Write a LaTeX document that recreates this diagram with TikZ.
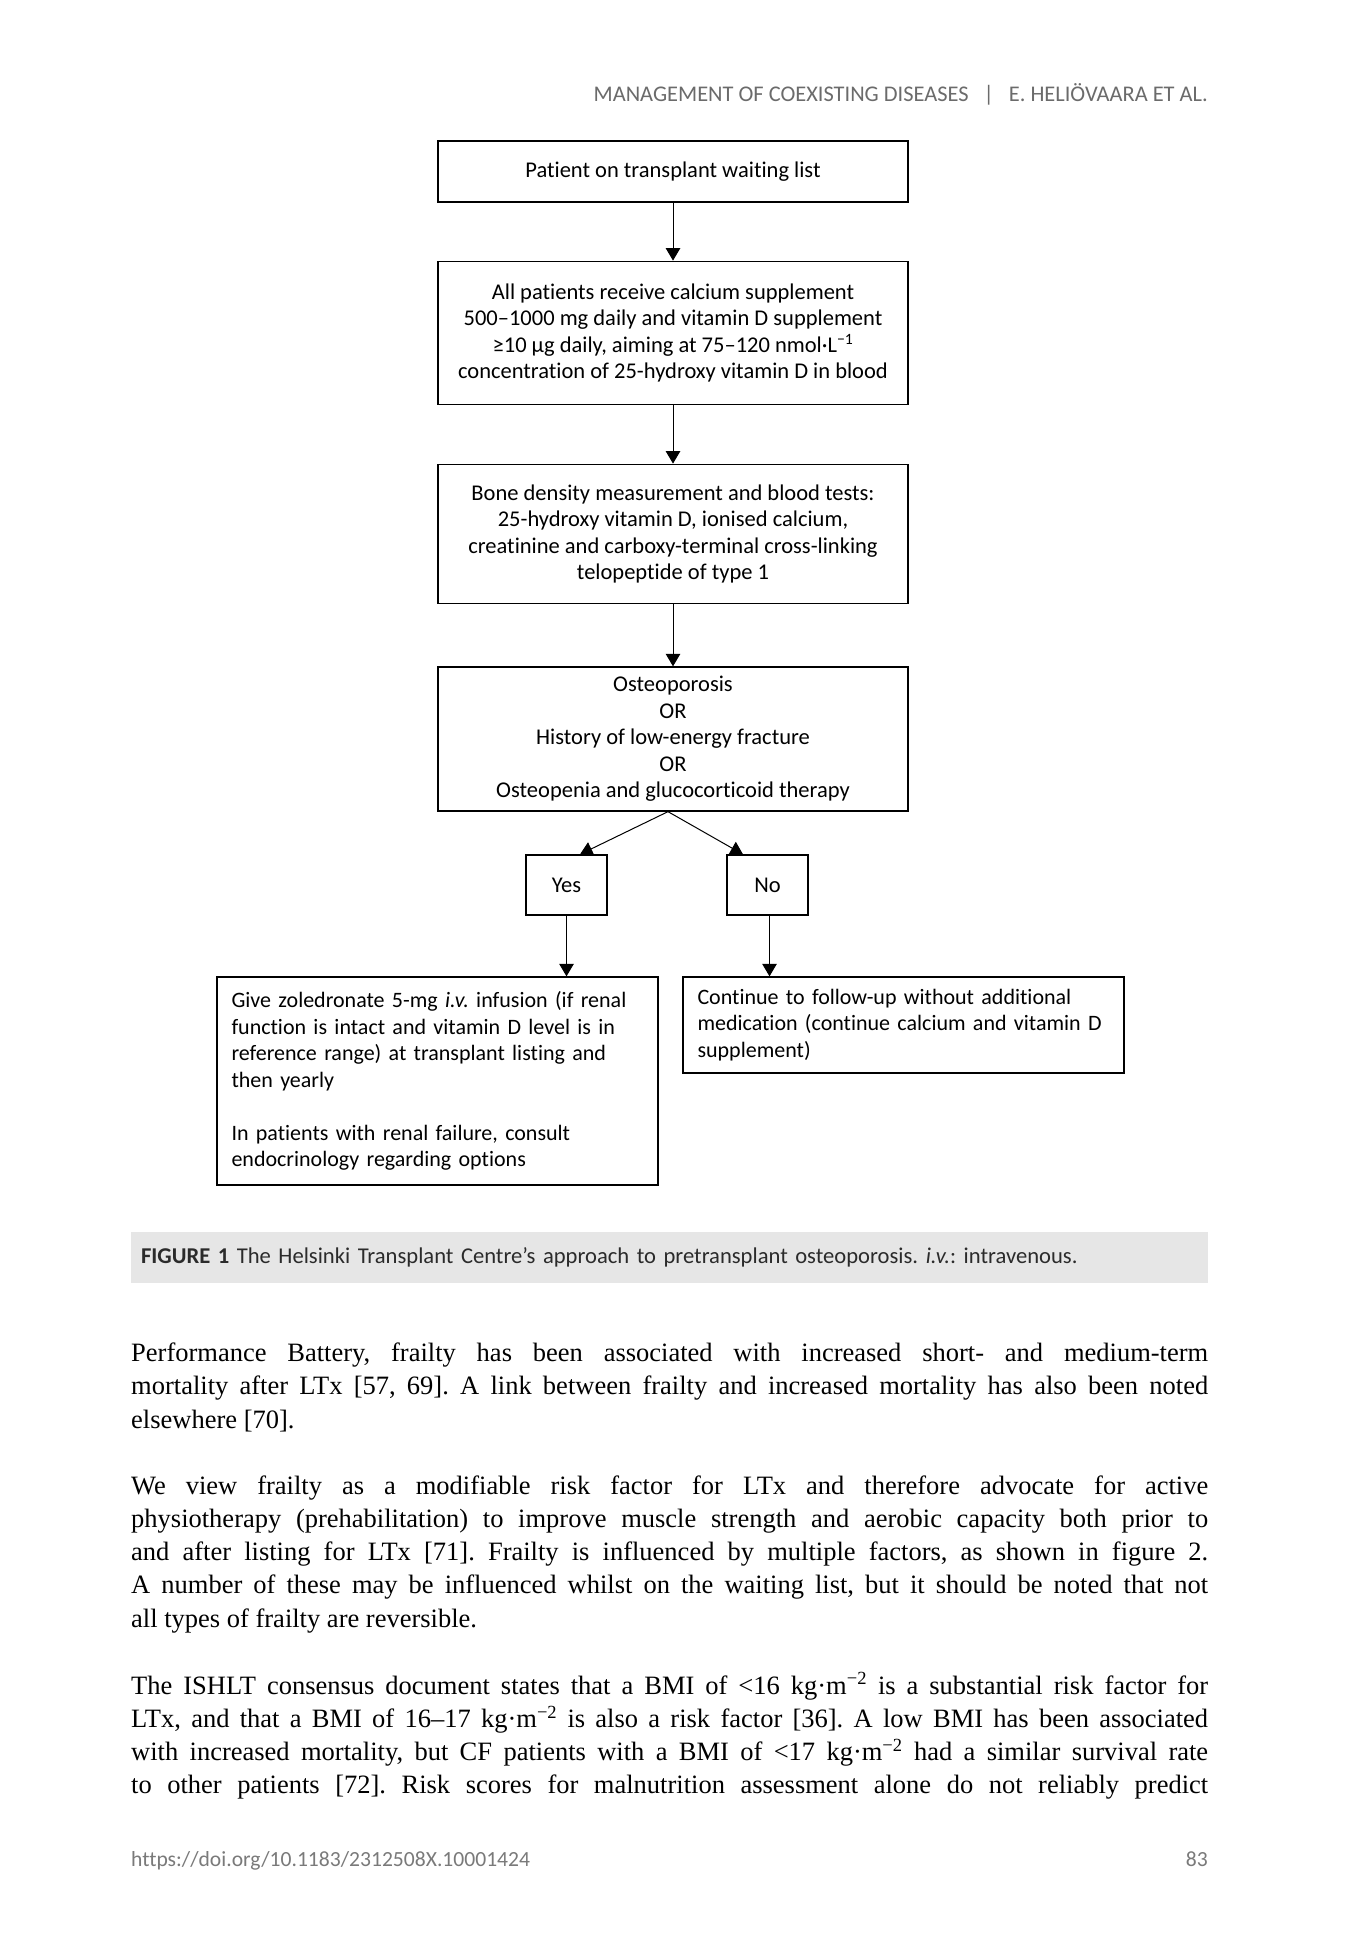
\documentclass[tikz,border=0pt]{standalone}
\usepackage{fontspec}
\setmainfont{Liberation Serif}
\newfontfamily\boxfont[Ligatures=NoCommon]{Carlito}
\usetikzlibrary{arrows.meta}
\definecolor{hdrgray}{HTML}{6B6B6B}
\definecolor{footgray}{HTML}{7A7A7A}
\definecolor{bandgray}{HTML}{E6E6E6}
\definecolor{captext}{HTML}{2B2B2B}
\frenchspacing
\begin{document}
\begin{tikzpicture}[x=1pt,y=-1pt,
  flowbox/.style={draw=black, line width=1.3pt, font=\boxfont\fontsize{22.5}{26.5}\selectfont, align=center, inner sep=0pt},
  leftbox/.style={flowbox, align=left, inner xsep=14.5pt, font=\boxfont\fontsize{22}{26.5}\selectfont},
  flowarrow/.style={draw=black, line width=1pt, -{Triangle[length=12.5pt,width=14.5pt]}},
  body/.style={text width=1077pt, inner sep=0pt, align=justify, font=\frenchspacing\fontsize{26.5}{33.3}\selectfont, anchor=base west},
  sanstext/.style={inner sep=0pt, font=\boxfont\fontsize{21.6}{26}\selectfont}]
\useasboundingbox[fill=white] (0,0) rectangle (1345,1956);

% header
\node[sanstext, anchor=base east, text=hdrgray, font=\boxfont\fontsize{22.4}{26}\selectfont] (hdr) at (1208,102)
  {MANAGEMENT OF COEXISTING DISEASES\hspace{15pt}|\hspace{15pt}E. HELIÖVAARA ET AL.};

% flowchart boxes
\node[flowbox, minimum width=470pt, minimum height=61pt] (b1) at (673,171.5)
  {Patient on transplant waiting list};
\node[flowbox, minimum width=470pt, minimum height=143.5pt] (b2) at (673,333)
  {All patients receive calcium supplement\\500–1000 mg daily and vitamin D supplement\\≥10 µg daily, aiming at 75–120 nmol·L\textsuperscript{−1}\\concentration of 25-hydroxy vitamin D in blood};
\node[flowbox, minimum width=470pt, minimum height=139.5pt] (b3) at (673,534)
  {Bone density measurement and blood tests:\\25-hydroxy vitamin D, ionised calcium,\\creatinine and carboxy-terminal cross-linking\\telopeptide of type 1};
\node[flowbox, minimum width=470pt, minimum height=144pt] (b4) at (673,739)
  {Osteoporosis\\OR\\History of low-energy fracture\\OR\\Osteopenia and glucocorticoid therapy};
\node[flowbox, minimum width=81pt, minimum height=60pt] (yes) at (566.5,885) {Yes};
\node[flowbox, minimum width=81pt, minimum height=60pt] (no) at (767.5,885) {No};
\node[leftbox, text width=412pt, minimum height=208pt] (give) at (437.5,1081)
  {\mbox{Give zoledronate 5-mg \textit{i.v.} infusion (if renal}\\\mbox{function is intact and vitamin D level is in}\\\mbox{reference range) at transplant listing and}\\then yearly\\[26.5pt]\mbox{In patients with renal failure, consult}\\\mbox{endocrinology regarding options}};
\node[leftbox, text width=412pt, minimum height=96pt] (cont) at (903.5,1025)
  {\mbox{Continue to follow-up without additional}\\\mbox{medication (continue calcium and vitamin D}\\supplement)};

% connectors
\draw[flowarrow] (b1) -- (b2);
\draw[flowarrow] (b2) -- (b3);
\draw[flowarrow] (b3) -- (b4);
\draw[flowarrow] ([xshift=-5pt]b4.south) -- ([xshift=13.5pt]yes.north);
\draw[flowarrow] ([xshift=-5pt]b4.south) -- ([xshift=-24.5pt]no.north);
\draw[flowarrow] (yes.south) -- (yes.south |- give.north);
\draw[flowarrow] ([xshift=2pt]no.south) -- ([xshift=2pt]no.south |- cont.north);

% caption
\node[fill=bandgray, text=captext, inner ysep=0pt, inner xsep=10pt, text width=1057pt, minimum height=51pt, align=left,
      font=\boxfont\fontsize{22.6}{26}\selectfont] (cap) at (669.5,1257.5)
  {\textbf{FIGURE 1} The Helsinki Transplant Centre’s approach to pretransplant osteoporosis. \textit{i.v.}: intravenous.};

% body text
\node[body] (p1) at (131,1361.5)
  {Performance Battery, frailty has been associated with increased short- and medium-term\linebreak
   mortality after LTx [57, 69]. A link between frailty and increased mortality has also been noted\linebreak
   elsewhere [70].};
\node[body] (p2) at (131,1494)
  {We view frailty as a modifiable risk factor for LTx and therefore advocate for active\linebreak
   physiotherapy (prehabilitation) to improve muscle strength and aerobic capacity both prior to\linebreak
   and after listing for LTx [71]. Frailty is influenced by multiple factors, as shown in figure 2.\linebreak
   A number of these may be influenced whilst on the waiting list, but it should be noted that not\linebreak
   all types of frailty are reversible.};
\node[body] (p3) at (131,1694)
  {The ISHLT consensus document states that a BMI of <16 kg·m\textsuperscript{−2} is a substantial risk factor for\linebreak
   LTx, and that a BMI of 16–17 kg·m\textsuperscript{−2} is also a risk factor [36]. A low BMI has been associated\linebreak
   with increased mortality, but CF patients with a BMI of <17 kg·m\textsuperscript{−2} had a similar survival rate\linebreak
   to other patients [72]. Risk scores for malnutrition assessment alone do not reliably predict\linebreak};

% footer
\node[sanstext, anchor=base west, text=footgray] (doi) at (131,1866) {https://doi.org/10.1183/2312508X.10001424};
\node[sanstext, anchor=base east, text=footgray] (pg) at (1208,1866) {83};
\end{tikzpicture}
\end{document}
